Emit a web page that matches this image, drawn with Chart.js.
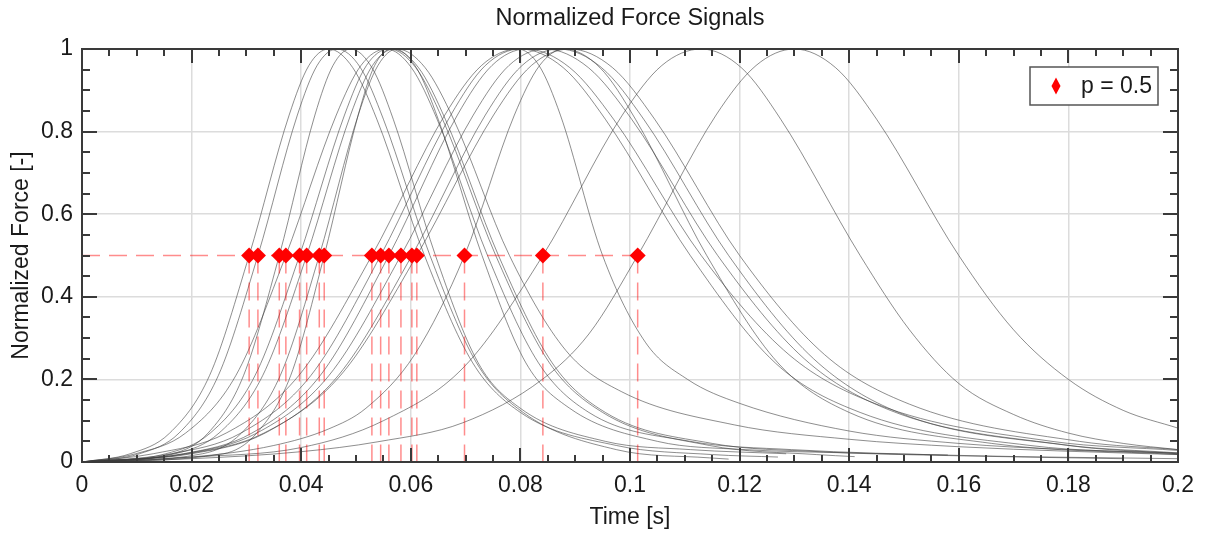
<!DOCTYPE html>
<html>
<head>
<meta charset="utf-8">
<title>Normalized Force Signals</title>
<script src="https://cdn.jsdelivr.net/npm/chart.js@4.4.0/dist/chart.umd.min.js"></script>
<style>
  html, body { margin: 0; padding: 0; background: #fff; }
  #wrap { width: 1205px; height: 533px; }
</style>
</head>
<body>
<div id="wrap"><canvas id="forceChart" width="1205" height="533"></canvas></div>
<script>
// force signals, [time s, normalized force]
const sig1 = [[0,0],[0.0088,0.02],[0.016,0.07],[0.0233,0.21],[0.0305,0.5],[0.0378,0.84],[0.0414,0.96],[0.045,1],[0.0494,0.955],[0.0538,0.83],[0.0625,0.5],[0.0713,0.24],[0.080,0.12],[0.0975,0.04],[0.115,0.018],[0.127,0.012]]
const sig2 = [[0,0],[0.0105,0.02],[0.0177,0.07],[0.0249,0.21],[0.0321,0.5],[0.0393,0.84],[0.0429,0.96],[0.0465,1],[0.0508,0.955],[0.055,0.83],[0.0635,0.5],[0.072,0.24],[0.0805,0.12],[0.0975,0.03],[0.1145,0.01],[0.118,0.007]]
const sig3 = [[0,0],[0.0165,0.02],[0.023,0.07],[0.0295,0.21],[0.036,0.5],[0.0425,0.84],[0.0458,0.96],[0.049,1],[0.0529,0.955],[0.0568,0.83],[0.0645,0.5],[0.0723,0.24],[0.080,0.13],[0.0955,0.05],[0.111,0.03],[0.1285,0.02]]
const sig4 = [[0,0],[0.0098,0.02],[0.0189,0.07],[0.0281,0.21],[0.0372,0.5],[0.0464,0.84],[0.0509,0.96],[0.0555,1],[0.0601,0.955],[0.0648,0.83],[0.074,0.5],[0.0833,0.24],[0.0925,0.12],[0.111,0.05],[0.1295,0.03],[0.16,0.016],[0.2,0.008]]
const sig5 = [[0,0],[0.0153,0.02],[0.0234,0.07],[0.0316,0.21],[0.0397,0.5],[0.0479,0.84],[0.0519,0.96],[0.056,1],[0.0609,0.955],[0.0658,0.83],[0.0755,0.5],[0.0853,0.24],[0.095,0.12],[0.1145,0.04],[0.134,0.018],[0.141,0.013]]
const sig6 = [[0,0],[0.017,0.02],[0.025,0.07],[0.033,0.21],[0.041,0.5],[0.049,0.84],[0.053,0.96],[0.057,1],[0.061,0.955],[0.065,0.83],[0.073,0.5],[0.081,0.24],[0.089,0.13],[0.105,0.05],[0.121,0.03],[0.14,0.022],[0.158,0.017]]
const sig7 = [[0,0],[0.022,0.02],[0.0291,0.07],[0.0362,0.21],[0.0433,0.5],[0.0504,0.84],[0.054,0.96],[0.0575,1],[0.0626,0.955],[0.0678,0.83],[0.078,0.5],[0.0883,0.27],[0.0985,0.17],[0.119,0.09],[0.14,0.055],[0.16,0.037],[0.18,0.026],[0.2,0.018]]
const sig8 = [[0,0],[0.0258,0.02],[0.0319,0.07],[0.0381,0.21],[0.0442,0.5],[0.0504,0.84],[0.0534,0.96],[0.0565,1],[0.0614,0.955],[0.0663,0.83],[0.076,0.5],[0.0858,0.24],[0.0955,0.12],[0.115,0.045],[0.1345,0.025],[0.16,0.015],[0.19,0.008]]
const sig9 = [[0,0],[0.013,0.02],[0.0263,0.07],[0.0396,0.21],[0.0529,0.5],[0.0662,0.84],[0.0729,0.96],[0.0795,1],[0.0834,0.96],[0.0873,0.84],[0.095,0.5],[0.1028,0.29],[0.1105,0.2],[0.12,0.142],[0.14,0.075],[0.16,0.045],[0.18,0.03],[0.2,0.022]]
const sig10 = [[0,0],[0.0163,0.02],[0.029,0.07],[0.0418,0.21],[0.0545,0.5],[0.0673,0.84],[0.0736,0.96],[0.08,1],[0.0878,0.955],[0.0955,0.83],[0.111,0.5],[0.1265,0.24],[0.142,0.12],[0.173,0.04],[0.2,0.02]]
const sig11 = [[0,0],[0.0185,0.02],[0.031,0.07],[0.0435,0.21],[0.056,0.5],[0.0685,0.84],[0.0748,0.96],[0.081,1],[0.089,0.955],[0.097,0.83],[0.113,0.5],[0.129,0.26],[0.145,0.14],[0.177,0.05],[0.2,0.028]]
const sig12 = [[0,0],[0.0188,0.02],[0.0319,0.07],[0.0451,0.21],[0.0582,0.5],[0.0714,0.84],[0.0779,0.96],[0.0845,1],[0.0924,0.955],[0.1003,0.83],[0.116,0.5],[0.1318,0.25],[0.1475,0.125],[0.179,0.042],[0.2,0.022]]
const sig13 = [[0,0],[0.02,0.02],[0.0334,0.07],[0.0468,0.21],[0.0602,0.5],[0.0736,0.84],[0.0803,0.96],[0.087,1],[0.0948,0.955],[0.1025,0.83],[0.118,0.5],[0.1335,0.25],[0.149,0.12],[0.18,0.04],[0.2,0.02]]
const sig14 = [[0,0],[0.0193,0.02],[0.0332,0.07],[0.0472,0.21],[0.0611,0.5],[0.0751,0.84],[0.082,0.96],[0.089,1],[0.0968,0.955],[0.1045,0.83],[0.12,0.5],[0.1355,0.26],[0.151,0.14],[0.182,0.05],[0.2,0.03]]
const sig15 = [[0,0],[0.02,0.012],[0.035,0.04],[0.045,0.08],[0.0518,0.13],[0.0607,0.26],[0.0698,0.5],[0.0789,0.84],[0.0835,0.96],[0.088,1],[0.0945,0.955],[0.101,0.83],[0.114,0.5],[0.127,0.24],[0.14,0.12],[0.166,0.045],[0.2,0.018]]
const sig16 = [[0,0],[0.02,0.012],[0.04,0.035],[0.055,0.1],[0.0697,0.23],[0.0841,0.5],[0.0986,0.84],[0.1058,0.96],[0.113,1],[0.1203,0.955],[0.1275,0.83],[0.142,0.5],[0.151,0.32],[0.16,0.19],[0.17,0.115],[0.18,0.07],[0.19,0.045],[0.2,0.03]]
const sig17 = [[0,0],[0.02,0.008],[0.04,0.025],[0.054,0.049],[0.0695,0.095],[0.084,0.2],[0.0925,0.31],[0.1014,0.5],[0.1157,0.84],[0.123,0.96],[0.13,1],[0.1375,0.955],[0.145,0.83],[0.16,0.5],[0.17,0.32],[0.18,0.2],[0.19,0.125],[0.2,0.082]]

const signals = [sig1, sig2, sig3, sig4, sig5, sig6, sig7, sig8, sig9, sig10, sig11, sig12, sig13, sig14, sig15, sig16, sig17]

// times where each signal first reaches p = 0.5
const halfTimes = [0.0305, 0.0321, 0.036, 0.0372, 0.0397, 0.041, 0.0433, 0.0442, 0.0529, 0.0545, 0.056, 0.0582, 0.0602, 0.0611, 0.0698, 0.0841, 0.1014]
const halfLevel = 0.5
const legendLabel = 'p = 0.5'

const FONT = '"Liberation Sans", Arial, sans-serif'
const TEXT = '#1a1a1a'
const FRAME = '#3a3a3a'
const DASH_RED = 'rgba(255,0,0,0.45)'

const toPoints = arr => arr.map(([x, y]) => ({ x, y }))
const fmt = v => String(Number(v.toFixed(2)))

const datasets = []

datasets.push({
    label: legendLabel,
    data: halfTimes.map(t => ({ x: t, y: halfLevel })),
    showLine: false,
    pointStyle: 'rectRot',
    pointRadius: 8,
    pointHoverRadius: 8,
    backgroundColor: '#ff0000',
    borderColor: '#ff0000',
    borderWidth: 0,
    order: 0
})

datasets.push({
    label: 'level',
    data: [{ x: 0, y: halfLevel }, { x: Math.max(...halfTimes), y: halfLevel }],
    borderColor: DASH_RED,
    borderWidth: 1.5,
    borderDash: [18, 9],
    pointRadius: 0,
    order: 1
})

halfTimes.forEach(t => {
    datasets.push({
        label: 'drop',
        data: [{ x: t, y: halfLevel }, { x: t, y: 0 }],
        borderColor: DASH_RED,
        borderWidth: 1.5,
        borderDash: [18, 9],
        pointRadius: 0,
        order: 1
    })
})

signals.forEach((s, i) => {
    datasets.push({
        label: 'signal ' + (i + 1),
        data: toPoints(s),
        borderColor: 'rgba(60,60,60,0.58)',
        borderWidth: 1,
        pointRadius: 0,
        cubicInterpolationMode: 'monotone',
        order: 2
    })
})

// inner ticks, closed frame and the boxed legend
const framePlugin = {
    id: 'frame',
    afterDatasetsDraw(chart) {
        const { ctx, chartArea: a, scales: { x, y } } = chart
        ctx.save()
        ctx.strokeStyle = FRAME
        ctx.lineWidth = 2
        ctx.beginPath()
        for (let i = 0; i <= 40; i++) {
            const px = Math.round(x.getPixelForValue(i * 0.005))
            const len = i % 4 === 0 ? 14 : 7
            ctx.moveTo(px, a.bottom); ctx.lineTo(px, a.bottom - len)
            ctx.moveTo(px, a.top); ctx.lineTo(px, a.top + len)
        }
        for (let i = 0; i <= 20; i++) {
            const py = Math.round(y.getPixelForValue(i * 0.05))
            const len = i % 4 === 0 ? 15 : 8
            ctx.moveTo(a.left, py); ctx.lineTo(a.left + len, py)
            ctx.moveTo(a.right, py); ctx.lineTo(a.right - len, py)
        }
        ctx.stroke()
        ctx.strokeRect(a.left, a.top, a.right - a.left, a.bottom - a.top)
        ctx.restore()
    },
    afterDraw(chart) {
        const { ctx, chartArea: a } = chart
        const bx = a.right - 148, by = a.top + 18, bw = 128, bh = 38
        ctx.save()
        ctx.fillStyle = '#fff'
        ctx.fillRect(bx, by, bw, bh)
        ctx.strokeStyle = '#555'
        ctx.lineWidth = 1.5
        ctx.strokeRect(bx, by, bw, bh)
        const cx = bx + 26, cy = by + bh / 2
        ctx.fillStyle = '#ff0000'
        ctx.beginPath()
        ctx.moveTo(cx, cy - 8.5); ctx.lineTo(cx + 4.5, cy); ctx.lineTo(cx, cy + 8.5); ctx.lineTo(cx - 4.5, cy)
        ctx.closePath()
        ctx.fill()
        ctx.fillStyle = TEXT
        ctx.font = '23px ' + FONT
        ctx.textBaseline = 'middle'
        ctx.fillText(legendLabel, bx + 51, cy + 1)
        ctx.restore()
    }
}

new Chart(document.getElementById('forceChart').getContext('2d'), {
    type: 'line',
    data: { datasets },
    options: {
        responsive: false,
        animation: false,
        devicePixelRatio: 1,
        layout: { padding: { left: 0, right: 27, top: 0, bottom: 0 } },
        plugins: {
            legend: { display: false },
            tooltip: { enabled: false },
            title: {
                display: true,
                fullSize: false,
                text: 'Normalized Force Signals',
                color: TEXT,
                font: { family: FONT, size: 23.5, weight: 'normal' },
                padding: { top: 4, bottom: 16.8 }
            }
        },
        scales: {
            x: {
                type: 'linear',
                min: 0,
                max: 0.2,
                afterFit: s => { s.height = 71 },
                ticks: {
                    stepSize: 0.02,
                    autoSkip: false,
                    maxRotation: 0,
                    padding: 10,
                    color: TEXT,
                    font: { family: FONT, size: 23 },
                    callback: v => fmt(v)
                },
                grid: { color: '#dcdcdc', lineWidth: 1.5, drawTicks: false },
                border: { display: true, color: FRAME, width: 2 },
                title: {
                    display: true,
                    text: 'Time [s]',
                    color: TEXT,
                    font: { family: FONT, size: 23 },
                    padding: { top: 0, bottom: 2 }
                }
            },
            y: {
                type: 'linear',
                min: 0,
                max: 1,
                afterFit: s => { s.width = 82 },
                ticks: {
                    stepSize: 0.2,
                    padding: 9,
                    color: TEXT,
                    font: { family: FONT, size: 23 },
                    callback: v => fmt(v)
                },
                grid: { color: '#dcdcdc', lineWidth: 1.5, drawTicks: false },
                border: { display: true, color: FRAME, width: 2 },
                title: {
                    display: true,
                    text: 'Normalized Force [-]',
                    color: TEXT,
                    font: { family: FONT, size: 23 },
                    padding: { top: 8, bottom: 0 }
                }
            }
        }
    },
    plugins: [framePlugin]
})
</script>
</body>
</html>
